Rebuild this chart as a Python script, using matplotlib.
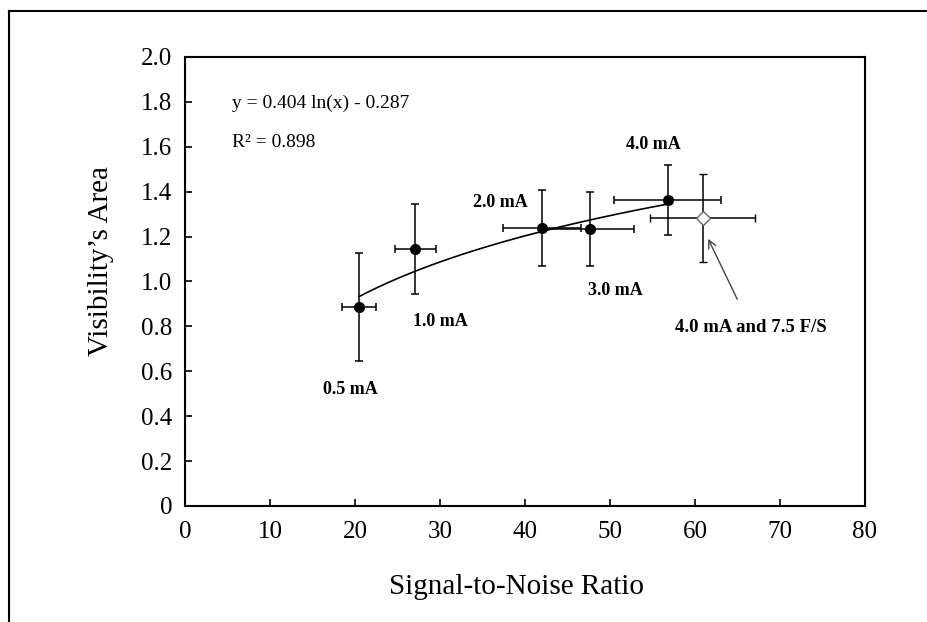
import numpy as np
import matplotlib
matplotlib.use("Agg")
import matplotlib.pyplot as plt
from matplotlib.lines import Line2D

plt.rcParams['font.family'] = ['Liberation Serif', 'DejaVu Serif']

# Data
labels = ["0.5 mA", "1.0 mA", "2.0 mA", "3.0 mA", "4.0 mA"]
snr = [20.5, 27.1, 42.0, 47.6, 56.8]
area = [0.888, 1.143, 1.237, 1.234, 1.363]
snr_err = [2.0, 2.4, 4.6, 5.2, 6.3]
area_err = [0.24, 0.20, 0.17, 0.163, 0.157]

fs_label = "4.0 mA and 7.5 F/S"
fs_snr = [60.9]
fs_area = [1.284]
fs_snr_err = [6.2]
fs_area_err = [0.195]

fit_a = 0.404
fit_b = -0.287
r2 = 0.898

xticks = [0, 10, 20, 30, 40, 50, 60, 70, 80]
yticks = [0, 0.2, 0.4, 0.6, 0.8, 1.0, 1.2, 1.4, 1.6, 1.8, 2.0]
ytick_labels = ["0", "0.2", "0.4", "0.6", "0.8", "1.0", "1.2", "1.4", "1.6", "1.8", "2.0"]

fig = plt.figure(figsize=(9.28, 6.22), dpi=100)
ax = fig.add_axes([0.1994, 0.1865, 0.7327, 0.7219])

# outer frame (left/top visible)
fig.add_artist(Line2D([9/928, 9/928], [0, 1 - 11/622], transform=fig.transFigure, color='black', lw=1.5))
fig.add_artist(Line2D([9/928, 1], [1 - 11/622, 1 - 11/622], transform=fig.transFigure, color='black', lw=1.5))

# trend line
xf = np.linspace(min(snr), max(snr), 200)
ax.plot(xf, fit_a * np.log(xf) + fit_b, color='black', lw=1.2, zorder=2)

ax.errorbar(snr, area, xerr=snr_err, yerr=area_err, fmt='o', color='black',
            ms=7, elinewidth=1.1, capsize=3, capthick=1.1, zorder=3)
ax.errorbar(fs_snr, fs_area, xerr=fs_snr_err, yerr=fs_area_err, fmt='D',
            mfc='white', mec='#666666', mew=1.0, ms=7, ecolor='black',
            elinewidth=1.1, capsize=3, capthick=1.1, zorder=3)

label_pos = [(19.5, 0.517), (30.0, 0.82), (37.1, 1.354), (50.6, 0.958), (55.1, 1.608)]
for lab, (lx, ly) in zip(labels, label_pos):
    ax.text(lx, ly, lab, fontsize=13, fontweight='bold', ha='center', va='center')

ax.annotate(fs_label, xy=(61.55, 1.19), xytext=(66.6, 0.793),
            fontsize=13.5, fontweight='bold', ha='center', va='center',
            arrowprops=dict(arrowstyle='->', color='#444444', lw=1.0,
                            shrinkA=14, shrinkB=0, mutation_scale=14))

ax.text(5.5, 1.795, "y = 0.404 ln(x) - 0.287", fontsize=14, ha='left', va='center')
ax.text(5.5, 1.62, "R² = 0.898", fontsize=14, ha='left', va='center')

ax.set_xlim(0, 80)
ax.set_ylim(0, 2.0)
ax.set_xticks(xticks)
ax.set_yticks(yticks)
ax.set_yticklabels(ytick_labels)
ax.tick_params(direction='in', length=5, width=1.2, labelsize=18, top=False, right=False)
ax.tick_params(axis='x', pad=11)
ax.tick_params(axis='y', pad=9)
for s in ax.spines.values():
    s.set_linewidth(1.5)

ax.set_xlabel("Signal-to-Noise Ratio", fontsize=21)
ax.set_ylabel("Visibility\u2019s Area", fontsize=21)
ax.xaxis.label.set_va('center')
ax.yaxis.label.set_va('center')
ax.xaxis.set_label_coords(0.4875, -0.18)
ax.yaxis.set_label_coords(-0.1235, 0.5457)

fig.savefig("out.png", dpi=100)
